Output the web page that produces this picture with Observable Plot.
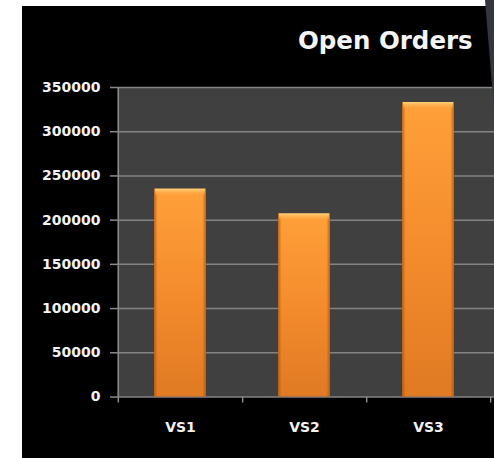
<!DOCTYPE html>
<html>
<head>
<meta charset="utf-8">
<script src="https://cdn.jsdelivr.net/npm/d3@7"></script>
<script src="https://cdn.jsdelivr.net/npm/@observablehq/plot@0.6"></script>
<style>
  html, body { margin: 0; padding: 0; background: #ffffff; width: 494px; height: 458px; overflow: hidden; }
  #panel { position: absolute; left: 22px; top: 6px; width: 472px; height: 452px; background: #000000; overflow: hidden; }
  #title { position: absolute; left: 276px; top: 23px; font-family: "DejaVu Sans", sans-serif; font-weight: bold; font-size: 24.5px; line-height: 1; color: #f4f4f4; white-space: nowrap; }
  #chart { position: absolute; left: 0; top: 54px; }
  #curl { position: absolute; left: 484px; top: 0; width: 10px; height: 110px; background: #32373d; clip-path: polygon(1px 0, 10px 0, 10px 100%); }
</style>
</head>
<body>
<div id="panel">
  <div id="title"></div>
  <div id="chart"></div>
</div>
<div id="curl"></div>
<script>
const categories = ["VS1", "VS2", "VS3"];
const openOrders = [235000, 207000, 333000];
const yTicks = [0, 50000, 100000, 150000, 200000, 250000, 300000, 350000];
const titleText = "Open Orders";

document.getElementById("title").textContent = titleText;

const data = categories.map((c, i) => ({category: c, value: openOrders[i]}));
const W = 472, H = 398, mL = 95, mT = 27, mB = 61.5, xEnd = 468;
const half = (xEnd - mL) / categories.length / 2;
const axisGray = "#8a8a8a";

const chart = Plot.plot({
  width: W,
  height: H,
  marginLeft: mL,
  marginRight: 0,
  marginTop: mT,
  marginBottom: mB,
  style: {background: "transparent", color: "#f2f2f2", fontFamily: "DejaVu Sans, sans-serif", fontWeight: "bold", fontSize: "14px", overflow: "visible"},
  x: {domain: categories, range: [mL, xEnd], padding: 0, label: null},
  y: {domain: [0, yTicks[yTicks.length - 1]], label: null},
  marks: [
    Plot.frame({fill: "#404040", stroke: null}),
    Plot.ruleY(yTicks, {stroke: "#838383", strokeWidth: 1.5}),
    Plot.barY(data, {x: "category", y: "value", fill: "url(#barV)", insetLeft: 36, insetRight: 36}),
    Plot.barY(data, {x: "category", y: "value", fill: "url(#barH)", insetLeft: 36, insetRight: 36}),
    Plot.barY(data, {x: "category", y1: "value", y2: "value", fill: "url(#barCap)", insetLeft: 37, insetRight: 37, insetBottom: -6}),
    Plot.ruleX([categories[0]], {x: d => d, y1: yTicks[yTicks.length - 1], y2: 0, dx: -half, insetBottom: -6, stroke: axisGray, strokeWidth: 1.5}),
    Plot.ruleX(categories, {x: d => d, y1: 0, y2: 0, dx: half, insetBottom: -6, stroke: axisGray, strokeWidth: 1.5}),
    Plot.axisY(yTicks, {tickSize: 7, tickPadding: 10, tickFormat: d => String(d), stroke: axisGray, strokeWidth: 1.5, label: null}),
    Plot.axisX({tickSize: 0, tickPadding: 25, label: null})
  ]
});

const svg = d3.select(chart);
const defs = svg.insert("defs", ":first-child");
const gV = defs.append("linearGradient").attr("id", "barV").attr("x1", 0).attr("y1", 0).attr("x2", 0).attr("y2", 1);
gV.append("stop").attr("offset", "0%").attr("stop-color", "#ffa03a");
gV.append("stop").attr("offset", "50%").attr("stop-color", "#f48c2d");
gV.append("stop").attr("offset", "100%").attr("stop-color", "#e07a23");
const gH = defs.append("linearGradient").attr("id", "barH").attr("x1", 0).attr("y1", 0).attr("x2", 1).attr("y2", 0);
gH.append("stop").attr("offset", "0%").attr("stop-color", "#a9520c").attr("stop-opacity", 0.75);
gH.append("stop").attr("offset", "7%").attr("stop-color", "#a9520c").attr("stop-opacity", 0);
gH.append("stop").attr("offset", "93%").attr("stop-color", "#a9520c").attr("stop-opacity", 0);
gH.append("stop").attr("offset", "100%").attr("stop-color", "#a9520c").attr("stop-opacity", 0.75);
const gC = defs.append("linearGradient").attr("id", "barCap").attr("x1", 0).attr("y1", 0).attr("x2", 0).attr("y2", 1);
gC.append("stop").attr("offset", "0%").attr("stop-color", "#ffd27c");
gC.append("stop").attr("offset", "100%").attr("stop-color", "#ffa43c").attr("stop-opacity", 0.4);

document.getElementById("chart").appendChild(chart);
</script>
</body>
</html>
